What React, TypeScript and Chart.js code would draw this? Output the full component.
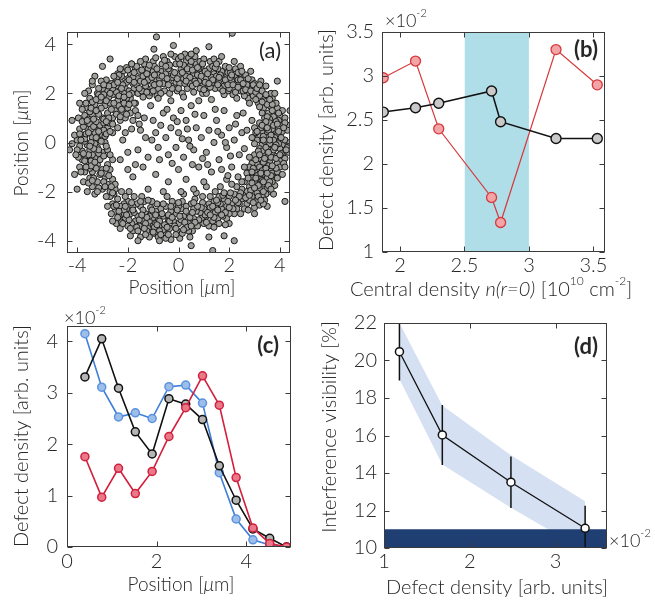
import React, { useEffect, useRef } from "react";
import { Chart, registerables } from "chart.js";

Chart.register(...registerables);

const FONT = 'Lato, "Open Sans", "DejaVu Sans", sans-serif';
const TXT = "#262626";
const TICK_SIZE = 20;
const TITLE_SIZE = 20;

// ---------- Panel (a): defect positions (x, y pairs, µm) ----------
const scatterPairs = [
  // top arc
  -2.4,2.8, -2.3,2.5, -2.2,2.9, -2.1,2.2, -2.45,2.3, -2.0,2.6, -2.3,3.0, -2.15,2.0, -2.05,2.45, -2.35,2.05, -2.25,2.7, -2.4,1.9, -2.1,1.7, -2.2,1.5,
  -1.9,2.8, -1.8,2.4, -1.7,3.0, -1.6,2.6, -1.95,2.1, -1.75,2.2, -1.55,2.9, -1.85,3.2, -1.65,2.35, -1.9,1.8, -1.6,2.0, -1.7,1.6, -1.5,2.5, -1.8,2.65,
  -1.4,2.7, -1.3,2.3, -1.2,3.0, -1.1,2.5, -1.45,2.1, -1.25,2.8, -1.05,2.2, -1.35,3.2, -1.15,1.9, -1.0,2.9, -1.4,1.85, -1.2,2.55, -1.3,3.4, -1.1,2.05, -1.0,3.3,
  -0.9,2.6, -0.8,2.2, -0.7,2.9, -0.6,2.4, -0.95,3.1, -0.75,2.6, -0.55,2.1, -0.85,1.9, -0.65,3.2, -0.9,3.45, -0.7,2.0, -0.5,2.8, -0.6,3.5, -0.8,2.75, -0.97,3.8, -0.87,4.3,
  -0.4,2.5, -0.3,2.9, -0.2,2.3, -0.1,3.2, -0.45,3.3, -0.25,2.65, -0.05,2.1, -0.35,2.0, -0.15,3.5, -0.4,3.0, -0.2,2.75, -0.1,2.45, 0.0,3.4, -0.2,3.95, -0.3,3.6,
  0.1,3.0, 0.2,2.6, 0.3,3.3, 0.4,2.9, 0.05,2.4, 0.25,3.6, 0.35,2.2, 0.15,2.0, 0.45,3.1, 0.1,3.5, 0.3,2.7, 0.45,2.4, 0.2,3.15, 0.0,2.75, 0.4,3.45,
  0.6,2.8, 0.7,3.2, 0.8,2.5, 0.9,3.0, 0.55,2.3, 0.75,2.75, 0.95,2.3, 0.65,3.5, 0.85,3.3, 0.7,3.74, 0.6,2.05, 0.9,2.7, 0.8,3.0, 0.5,3.3, 0.95,2.0,
  1.1,2.6, 1.2,3.0, 1.3,2.4, 1.4,2.8, 1.05,2.9, 1.25,3.3, 1.45,2.2, 1.15,2.2, 1.35,3.1, 1.0,3.4, 1.2,3.9, 1.4,3.4, 1.1,2.0, 1.3,2.65, 1.45,2.55,
  1.6,2.5, 1.7,2.9, 1.8,2.3, 1.9,2.7, 1.55,3.0, 1.75,2.6, 1.95,2.1, 1.65,2.2, 1.85,3.1, 1.6,3.3, 1.9,2.45, 1.5,2.7, 1.8,1.95, 1.7,3.5, 1.95,2.85,
  2.1,2.5, 2.2,2.2, 2.3,2.7, 2.4,2.4, 2.05,2.85, 2.25,3.0, 2.45,2.1, 2.15,1.95, 2.35,2.55, 2.0,2.2, 2.2,3.3, 2.4,2.8, 2.12,4.45, 2.3,1.8, 2.45,3.1,
  2.6,2.3, 2.7,2.0, 2.8,2.5, 2.9,2.2, 2.55,2.6, 2.75,1.8, 2.95,1.9, 2.65,2.75, 2.85,2.9, 2.6,1.9, 2.9,2.55, 2.7,2.35, 2.55,2.1, 3.0,2.4, 2.8,1.6,
  -2.5,2.45, -2.35,2.75, -2.2,2.35, -2.05,3.05, -1.95,2.55, -1.85,2.0, -1.75,2.85, -1.65,3.1, -1.55,2.2, -1.45,2.95, -1.35,2.45, -1.25,2.05, -1.15,3.15, -1.05,2.65,
  -0.95,2.35, -0.85,3.0, -0.75,2.4, -0.65,2.7, -0.55,3.35, -0.45,2.6, -0.35,3.15, -0.25,2.2, -0.15,2.85, -0.05,2.6, 0.05,3.2, 0.15,2.85, 0.25,2.4, 0.35,3.0,
  0.45,2.65, 0.55,2.95, 0.65,2.5, 0.75,3.05, 0.85,2.2, 0.95,3.2, 1.05,2.45, 1.15,2.8, 1.25,2.25, 1.35,2.55, 1.45,3.05, 1.55,2.35, 1.65,2.75, 1.75,2.1,
  1.85,2.55, 1.95,2.35, 2.05,2.65, 2.15,2.35, 2.25,2.05, 2.35,2.85, 2.45,2.55, 2.55,2.4, 2.65,2.15, 2.75,2.6, 2.85,2.1, 2.95,2.35, 3.05,2.05, -2.0,2.95,
  -1.5,3.3, -0.5,3.1, 0.5,3.6, 1.5,3.2, 2.0,3.05, 2.5,2.9, -1.0,2.1, 0.0,2.2, 1.0,2.15, -2.45,2.6, -1.75,2.45, -0.95,2.75, 0.3,2.5, 1.6,2.65, 2.35,2.25,
  -0.4,2.35, 0.7,2.4, 1.2,2.4, 2.1,2.75,
  // upper-right shoulder
  3.1,2.2, 3.2,1.9, 3.3,2.1, 3.4,1.7, 3.5,1.9, 3.6,1.5, 3.7,1.8, 3.8,1.3, 3.15,1.6, 3.35,1.4, 3.55,1.2, 3.75,1.05, 3.9,1.4, 4.0,1.1, 3.25,2.5, 3.45,2.3,
  3.65,2.0, 3.05,1.75, 3.3,1.2, 3.5,1.55, 3.7,1.3, 3.85,1.6, 3.95,0.9, 3.6,0.95, 3.4,1.0, 3.8,2.0, 4.1,1.3, 3.2,2.35, 3.9,2.5, 4.4,1.3, 4.2,1.0, 4.3,0.7,
  3.5,1.05, 3.7,1.55, 3.3,1.65, 3.95,1.2, 3.6,1.75, 3.2,1.45, 3.45,1.95,
  // right side
  3.2,0.8, 3.4,0.6, 3.6,0.8, 3.8,0.5, 4.0,0.7, 3.3,0.4, 3.5,0.35, 3.7,0.55, 3.9,0.3, 4.1,0.45, 3.0,0.6, 3.15,0.3, 4.2,0.8, 3.45,0.85, 3.85,0.85, 2.9,0.9, 4.3,0.5,
  3.1,0.1, 3.3,-0.1, 3.5,0.2, 3.7,-0.2, 3.9,0.05, 4.1,-0.1, 3.2,-0.25, 3.4,0.05, 3.6,-0.05, 3.8,0.2, 4.0,-0.25, 4.2,0.1, 3.0,-0.05, 4.3,-0.2, 3.55,-0.3, 3.75,0.1, 2.9,0.2, 4.4,0.0, 3.35,0.25, 3.95,-0.05,
  3.0,-0.5, 3.2,-0.7, 3.4,-0.45, 3.6,-0.8, 3.8,-0.55, 4.0,-0.75, 3.1,-0.85, 3.3,-0.35, 3.5,-0.6, 3.7,-0.4, 3.9,-0.85, 4.1,-0.5, 2.8,-0.6, 2.9,-0.85, 4.2,-0.65, 3.45,-0.9, 3.65,-0.6, 4.35,-0.4,
  2.8,-1.0, 3.0,-1.2, 3.2,-1.0, 3.4,-1.3, 3.6,-1.1, 3.8,-1.4, 4.0,-1.0, 2.9,-1.45, 3.1,-1.35, 3.3,-1.15, 3.5,-1.45, 3.7,-1.25, 3.9,-1.2, 2.7,-1.25, 3.25,-1.5, 4.1,-1.3, 2.6,-1.0, 3.55,-0.95,
  2.6,-1.6, 2.8,-1.8, 3.0,-1.6, 3.2,-1.9, 3.4,-1.7, 3.6,-2.0, 3.8,-1.75, 2.7,-2.0, 2.9,-1.65, 3.1,-2.05, 3.3,-1.55, 3.5,-1.85, 3.7,-1.6, 2.5,-1.9, 3.75,-2.1, 4.2,-2.4, 3.45,-2.1,
  2.5,-2.3, 2.7,-2.5, 2.9,-2.2, 3.1,-2.4, 3.3,-2.2, 3.5,-2.6, 2.6,-2.7, 2.8,-2.35, 3.0,-2.65, 3.2,-2.55, 2.4,-2.5, 3.4,-2.35, 2.55,-2.15, 3.0,-2.9,
  3.25,0.6, 3.55,0.5, 3.75,0.7, 3.95,0.55, 4.15,0.6, 3.05,0.4, 3.35,0.1, 3.65,0.3, 3.85,-0.1, 4.05,0.2, 3.15,-0.35, 3.45,-0.2, 3.75,-0.3, 4.05,-0.45, 4.25,-0.3,
  3.05,-0.7, 3.35,-0.8, 3.55,-0.4, 3.85,-0.65, 4.15,-0.85, 2.95,-1.05, 3.25,-1.25, 3.45,-1.05, 3.65,-1.35, 3.85,-1.05, 3.05,-1.45, 3.35,-1.6, 3.6,-1.6, 3.9,-1.45,
  2.75,-1.45, 2.85,-1.95, 3.15,-1.75, 3.35,-2.0, 3.55,-1.75, 2.65,-2.25, 2.95,-2.45, 3.15,-2.2, 3.35,-2.5, 2.75,-2.75, 2.45,-2.05, 3.3,0.7, 3.6,0.1, 3.9,0.75,
  3.7,-0.95, 3.2,-0.5, 3.5,-1.25, 3.0,-1.85, 2.8,-2.15, 4.0,-0.5, 4.2,-1.0, 3.95,0.45, 3.5,0.6, 3.1,0.45, 3.8,-0.2, 3.4,-0.65, 2.9,-1.2, 3.25,-2.35, 3.65,-1.9,
  // bottom right
  2.3,-1.8, 2.2,-2.1, 2.4,-2.2, 2.1,-2.5, 2.3,-2.7, 2.0,-2.2, 1.9,-2.6, 2.2,-2.9, 1.8,-2.3, 2.0,-2.9, 1.7,-2.7, 1.6,-2.2, 1.9,-3.1, 1.5,-2.6, 1.75,-3.0,
  1.4,-2.4, 1.3,-2.8, 1.55,-3.1, 1.2,-2.5, 1.1,-3.0, 1.35,-3.2, 1.0,-2.7, 1.2,-3.4, 0.9,-3.1, 1.45,-2.0, 1.25,-2.2, 2.5,-1.6, 2.1,-1.7, 1.65,-1.8, 1.9,-1.5,
  1.1,-1.8, 2.45,-2.9, 1.6,-3.3, 2.0,-3.3, 1.85,-3.35, 1.4,-3.45, 1.0,-3.3, 0.85,-2.6, 1.8,-3.8, 2.2,-4.0, 1.35,-4.4, 1.2,-3.85, 0.95,-2.2,
  2.35,-2.45, 2.15,-2.7, 1.95,-2.4, 1.85,-2.85, 1.65,-2.5, 1.45,-2.85, 1.25,-2.65, 1.05,-2.95, 0.85,-2.85, 2.05,-2.05, 1.75,-2.15, 1.55,-2.45, 1.35,-2.6,
  1.15,-2.85, 0.95,-2.45, 2.25,-2.35, 2.0,-2.65, 1.7,-2.95, 1.4,-3.05, 1.1,-3.25, 0.8,-3.15, 1.55,-2.75, 1.25,-2.95, 0.9,-2.65, 1.8,-2.05, 1.5,-2.35,
  // bottom arc
  0.7,-2.8, 0.6,-3.1, 0.5,-2.5, 0.4,-3.3, 0.75,-3.4, 0.55,-3.6, 0.35,-2.9, 0.65,-2.3, 0.45,-3.85, 0.3,-2.6, 0.5,-4.2, 0.7,-2.05, 0.4,-3.6, 0.6,-2.7,
  0.2,-3.0, 0.1,-2.7, 0.0,-3.3, -0.1,-2.9, 0.25,-3.5, 0.15,-2.4, -0.05,-3.6, 0.05,-3.9, -0.15,-2.5, 0.2,-2.1, -0.2,-3.2, 0.0,-2.6, 0.1,-3.15, -0.1,-3.75,
  -0.3,-2.8, -0.4,-3.2, -0.5,-2.6, -0.6,-3.0, -0.35,-3.5, -0.55,-3.7, -0.25,-2.4, -0.45,-2.2, -0.65,-3.4, -0.3,-3.95, -0.5,-3.9, -0.7,-2.7, -0.4,-2.95, -0.6,-3.55,
  -0.8,-3.1, -0.9,-2.8, -1.0,-3.4, -1.1,-2.9, -0.75,-3.6, -0.95,-3.7, -1.15,-3.2, -0.85,-2.5, -1.05,-2.4, -1.2,-3.5, -0.8,-3.85, -1.0,-3.05, -0.9,-3.3, -1.1,-2.65, -0.75,-4.0, -1.15,-3.85,
  -1.3,-2.9, -1.4,-3.2, -1.5,-2.6, -1.6,-3.0, -1.35,-2.4, -1.55,-3.4, -1.25,-3.6, -1.45,-2.2, -1.65,-2.5, -1.3,-3.3, -1.5,-3.85, -1.7,-3.2, -1.4,-2.75, -1.6,-4.0,
  -1.8,-2.6, -1.9,-2.9, -2.0,-2.4, -2.1,-3.1, -1.85,-3.3, -2.05,-2.7, -1.75,-2.2, -1.95,-2.0, -2.15,-2.5, -1.8,-3.6, -2.2,-2.9, -1.9,-3.8, -2.0,-3.4, -2.1,-2.2,
  -2.3,-2.6, -2.4,-2.3, -2.5,-2.8, -2.6,-2.5, -2.35,-3.0, -2.55,-2.1, -2.25,-2.0, -2.45,-3.3, -2.65,-2.9, -2.7,-2.2, -2.3,-3.5, -2.5,-1.9, -2.8,-2.6, -2.6,-3.2,
  0.65,-3.25, 0.45,-3.05, 0.25,-3.25, 0.05,-3.0, -0.15,-3.4, -0.35,-3.2, -0.55,-3.35, -0.75,-3.2, -0.95,-3.45, -1.15,-3.0, -1.35,-3.5, -1.55,-3.15, -1.75,-2.85,
  -1.95,-3.15, -2.15,-2.75, -2.35,-2.8, -2.55,-2.6, 0.75,-2.6, 0.55,-2.85, 0.35,-3.45, 0.15,-3.7, -0.05,-2.75, -0.25,-3.05, -0.45,-3.45, -0.65,-2.9, -0.85,-3.35,
  -1.05,-2.75, -1.25,-3.05, -1.45,-2.95, -1.65,-3.45, -1.85,-2.45, -2.05,-2.95, -2.25,-3.25, -2.45,-2.55, 0.5,-3.4, 0.2,-3.55, -0.1,-3.5, -0.4,-3.75, -0.7,-3.75,
  -1.0,-3.65, -1.3,-3.75, -1.6,-3.6, -1.9,-3.5, -2.2,-3.3, 0.6,-2.45, 0.3,-2.8, 0.0,-2.45, -0.3,-2.6, -0.6,-2.5, -0.9,-2.95, -1.2,-2.35, -1.5,-2.4, -1.8,-2.75,
  -2.1,-2.6, -2.4,-3.05,
  // left side
  -3.0,-1.9, -2.8,-1.7, -3.2,-1.6, -2.6,-1.5, -3.4,-1.8, -2.9,-1.4, -3.1,-1.3, -2.7,-2.0, -3.5,-1.45, -3.3,-2.1, -2.5,-1.7, -3.6,-2.0, -2.85,-2.2, -3.75,-1.6, -4.0,-1.9,
  -3.0,-1.1, -3.2,-0.9, -3.4,-1.2, -3.6,-0.8, -2.8,-0.9, -3.1,-0.7, -3.3,-0.6, -3.5,-1.05, -3.7,-1.2, -2.9,-1.25, -3.8,-0.7, -2.7,-1.1, -3.9,-1.0, -3.45,-0.75, -4.1,-1.3, -2.6,-0.7, -3.65,-0.6,
  -3.0,-0.4, -3.2,-0.2, -3.4,-0.5, -3.6,-0.1, -3.8,-0.35, -2.9,0.0, -3.1,0.1, -3.3,-0.05, -3.5,-0.3, -3.7,0.05, -3.9,-0.15, -4.0,-0.3, -2.8,-0.3, -4.2,-0.05, -3.65,-0.55, -4.3,-0.3, -2.7,-0.5, -3.15,-0.45,
  -3.0,0.3, -3.2,0.5, -3.4,0.2, -3.6,0.6, -3.8,0.3, -2.8,0.6, -3.1,0.7, -3.3,0.4, -3.5,0.75, -3.7,0.15, -3.9,0.55, -2.9,0.25, -4.0,0.1, -2.6,0.4, -4.1,0.3, -3.45,0.55, -2.75,0.8,
  -2.95,-1.6, -3.15,-1.85, -3.35,-1.45, -3.55,-1.65, -2.75,-1.35, -2.65,-1.8, -3.05,-1.25, -3.25,-1.05, -3.45,-0.95, -3.65,-1.0, -3.85,-1.2, -2.85,-1.05,
  -2.95,-0.55, -3.15,-0.3, -3.35,-0.25, -3.55,-0.5, -3.75,-0.45, -3.95,-0.6, -2.85,-0.15, -3.05,0.05, -3.25,0.2, -3.45,0.0, -3.65,0.35, -3.85,0.1,
  -2.95,0.5, -3.15,0.45, -3.35,0.65, -3.55,0.4, -3.75,0.65, -2.85,0.35, -3.4,-1.55, -2.9,-1.8, -3.2,-2.0, -2.6,-2.05, -3.5,-0.15, -3.7,-0.75, -3.9,0.35,
  -4.05,-0.5, -3.3,-0.8,
  // top-left cluster
  -3.0,1.0, -3.2,1.3, -3.4,1.1, -3.6,1.4, -2.8,1.2, -2.6,1.0, -2.9,1.5, -3.1,1.7, -3.3,1.55, -3.5,1.8, -2.7,1.6, -2.5,1.3, -2.4,1.7, -2.6,1.95, -2.8,2.1,
  -3.0,2.2, -3.2,2.0, -3.4,2.35, -2.2,1.2, -2.3,0.9, -2.1,1.0, -2.0,1.4, -1.9,1.2, -1.8,0.9, -1.7,1.3, -2.05,1.8, -2.25,2.2, -3.7,1.1, -3.8,1.35, -3.55,0.95,
  -3.25,0.85, -2.95,0.8, -2.65,2.4, -2.85,2.55, -3.05,2.5, -3.3,2.7, -2.55,2.7, -2.35,1.5, -2.15,1.6, -1.95,1.95, -1.75,1.6, -1.6,1.1, -1.55,0.75, -1.85,0.55, -2.1,0.4,
  -2.4,0.6, -2.7,0.45, -3.55,2.1, -3.95,1.0, -4.2,0.9, -3.7,2.0, -3.9,1.6, -2.45,2.05, -2.75,1.85, -3.15,1.95, -3.4,1.65, -2.95,1.95, -3.7,0.85, -3.4,2.5, -2.6,2.2,
  -2.7,3.4, -1.85,3.2, -3.0,3.1,
  -2.95,0.95, -3.15,1.15, -3.35,0.95, -3.5,1.25, -2.75,1.0, -2.65,1.35, -2.85,1.7, -3.05,1.4, -3.25,1.75, -2.55,1.6, -2.45,1.15, -2.35,1.9, -2.55,2.35,
  -2.75,2.3, -2.95,2.35, -3.15,2.2, -2.25,1.35, -2.05,1.15, -1.95,1.55, -2.15,1.85, -2.3,1.05, -2.6,0.75, -2.85,0.85, -3.45,1.4, -3.25,1.3, -3.65,1.6,
  -3.8,0.85, -3.05,1.85, -2.7,2.0, -2.4,2.45, -3.6,0.9,
  // interior
  -1.5,0.5, -1.3,0.2, -1.6,-0.3, -1.2,-0.6, -1.4,-1.0, -1.8,-1.4, -1.0,0.9, -0.9,0.4, -0.8,-0.2, -0.7,0.7, -0.6,1.2, -0.5,0.2, -0.4,-0.5, -0.3,0.6, -0.2,1.0,
  -0.1,-0.2, 0.0,0.4, 0.1,1.3, 0.2,-0.6, 0.3,0.9, 0.4,0.1, 0.5,1.5, 0.6,-0.3, 0.7,0.6, 0.8,-1.0, 0.9,0.2, 1.0,1.1, 1.1,-0.4, 1.2,0.5, 1.3,-1.2,
  1.4,0.0, 1.5,0.9, 1.6,-0.7, 1.7,0.3, 1.8,1.3, 1.9,-0.2, 2.0,0.6, 2.1,-1.0, 2.2,0.1, 2.3,1.1, 2.4,-0.5, 2.5,0.4, -1.1,1.5, -0.8,1.8, -0.3,1.7,
  0.2,1.85, 0.8,1.7, 1.3,1.75, -0.9,-1.3, -0.4,-1.6, 0.0,-1.1, 0.3,-1.5, 0.6,-1.9, 1.0,-1.6, -1.2,-1.9, -0.6,-2.0, 0.1,-2.0, -0.05,0.85, 0.35,0.55, 0.15,0.15,
  -0.25,-0.85, 0.55,-0.9, 1.15,-0.9, 1.55,0.45, 2.25,0.75, 2.6,-0.25, 2.7,0.5, 2.55,1.2, -1.35,1.0, -0.45,1.35, 0.65,1.15, 1.85,0.0, 2.05,-0.55, -0.75,-0.7, -1.05,0.1,
  0.45,-0.15, 0.95,-0.65, 1.45,1.35, -1.7,-0.9, -2.0,-0.4, -2.2,0.1, -2.0,-1.1, -2.3,-0.7, 1.95,-1.35, 2.35,-1.4, 1.7,-1.1,
];
const aTicks = [-4, -2, 0, 2, 4];

// ---------- Panel (b) ----------
const bCentralDensity = [1.87, 2.12, 2.3, 2.71, 2.78, 3.21, 3.53];
const bBlackDefect = [2.59, 2.64, 2.69, 2.83, 2.48, 2.29, 2.29];
const bRedDefect = [2.98, 3.17, 2.4, 1.62, 1.335, 3.3, 2.9];
const bBand = [2.5, 3.0];
const bXTicks = [2, 2.5, 3, 3.5];
const bYTicks = [1, 1.5, 2, 2.5, 3, 3.5];

// ---------- Panel (c) ----------
const cPosition = [0.4, 0.775, 1.15, 1.525, 1.9, 2.275, 2.65, 3.025, 3.4, 3.775, 4.15, 4.525, 4.9];
const cBlack = [3.31, 4.05, 3.09, 2.24, 1.81, 2.885, 2.78, 2.48, 1.58, 0.91, 0.35, 0.17, 0];
const cBlue = [4.15, 3.11, 2.53, 2.61, 2.5, 3.12, 3.15, 2.8, 1.445, 0.545, 0.14, 0.04, 0];
const cRed = [1.757, 0.97, 1.53, 1.04, 1.47, 2.15, 2.71, 3.33, 2.76, 1.35, 0.37, 0.07, 0];
const cXTicks = [0, 2, 4];
const cYTicks = [0, 1, 2, 3, 4];

// ---------- Panel (d) ----------
const dDefect = [1.18, 1.68, 2.48, 3.345];
const dVisibility = [20.47, 16.03, 13.51, 11.05];
const dError = [1.53, 1.6, 1.37, 1.2];
const dBandUpper = [22.0, 17.6, 14.95, 12.5];
const dBandLower = [19.0, 14.45, 12.15, 9.85];
const dFloor = [10, 11];
const dXTicks = [1, 2, 3];
const dYTicks = [10, 12, 14, 16, 18, 20, 22];

type Seg = { t: string; it?: boolean; sup?: boolean };
type TextItem = { segs: Seg[]; x: number; y: number; size: number; align?: "left" | "center" | "right"; rot?: boolean; bold?: boolean; light?: boolean };
type Area = { l: number; t: number; r: number; b: number };

function fontFor(size: number, s: Seg, bold?: boolean, light?: boolean) {
  const sz = s.sup ? Math.round(size * 0.62) : size;
  const weight = bold ? "bold " : light ? "300 " : "";
  return `${s.it ? "italic " : ""}${weight}${sz}px ${FONT}`;
}

function drawRich(ctx: CanvasRenderingContext2D, item: TextItem) {
  const { segs, x, y, size, align = "center", rot = false, bold = false, light = true } = item;
  ctx.save();
  ctx.translate(x, y);
  if (rot) ctx.rotate(-Math.PI / 2);
  ctx.textBaseline = "middle";
  ctx.textAlign = "left";
  ctx.fillStyle = TXT;
  let total = 0;
  const widths = segs.map((s) => {
    ctx.font = fontFor(size, s, bold, light);
    const w = ctx.measureText(s.t).width;
    total += w;
    return w;
  });
  let cx = align === "center" ? -total / 2 : align === "right" ? -total : 0;
  segs.forEach((s, i) => {
    ctx.font = fontFor(size, s, bold, light);
    ctx.fillText(s.t, cx, s.sup ? -size * 0.42 : 0);
    cx += widths[i];
  });
  ctx.restore();
}

function decorPlugin(ox: number, oy: number, texts: TextItem[]) {
  return {
    id: "decor",
    afterDraw(chart: any) {
      const { ctx, chartArea: a, scales } = chart;
      ctx.save();
      ctx.strokeStyle = "#3a3a3a";
      ctx.lineWidth = 1;
      const L = Math.round(a.left) + 0.5, T = Math.round(a.top) + 0.5;
      const R = Math.round(a.right) - 0.5, B = Math.round(a.bottom) - 0.5;
      ctx.strokeRect(L, T, R - L, B - T);
      const tl = 5;
      ctx.beginPath();
      scales.x.ticks.forEach((tk: any) => {
        const p = Math.round(scales.x.getPixelForValue(tk.value)) + 0.5;
        ctx.moveTo(p, B); ctx.lineTo(p, B - tl);
        ctx.moveTo(p, T); ctx.lineTo(p, T + tl);
      });
      scales.y.ticks.forEach((tk: any) => {
        const p = Math.round(scales.y.getPixelForValue(tk.value)) + 0.5;
        ctx.moveTo(L, p); ctx.lineTo(L + tl, p);
        ctx.moveTo(R, p); ctx.lineTo(R - tl, p);
      });
      ctx.stroke();
      ctx.translate(-ox, -oy);
      texts.forEach((t) => drawRich(ctx, t));
      ctx.restore();
    },
  };
}

function fmtTick(v: any) {
  return String(Number(v));
}

function axis(kind: "x" | "y", min: number, max: number, ticks: number[], area: Area, H: number, pad: number) {
  return {
    type: "linear",
    min,
    max,
    afterBuildTicks: (s: any) => {
      s.ticks = ticks.map((v) => ({ value: v }));
    },
    afterFit: (s: any) => {
      if (kind === "x") s.height = H - area.b;
      else s.width = area.l;
    },
    grid: { display: false, drawTicks: false },
    border: { display: false },
    ticks: {
      padding: pad,
      color: TXT,
      font: { family: FONT, size: TICK_SIZE, weight: "300" },
      maxRotation: 0,
      minRotation: 0,
      autoSkip: false,
      callback: (v: any) => fmtTick(v),
    },
  };
}

function baseOptions(area: Area, W: number) {
  return {
    responsive: false,
    maintainAspectRatio: false,
    animation: false,
    events: [],
    layout: { padding: { left: 0, top: area.t, right: W - area.r, bottom: 0 } },
    plugins: { legend: { display: false }, tooltip: { enabled: false } },
  };
}

const pts = (xs: number[], ys: number[]) => xs.map((x, i) => ({ x, y: ys[i] }));

const positionTitle: Seg[] = [{ t: "Position [" }, { t: "μ", it: true }, { t: "m]" }];
const defectTitle: Seg[] = [{ t: "Defect density [arb. units]" }];
const expLabel: Seg[] = [{ t: "×10" }, { t: "-2", sup: true }];

type Spec = { ox: number; oy: number; w: number; h: number; build: () => any };

const specA: Spec = {
  ox: 0, oy: 0, w: 315, h: 300,
  build: () => {
    const area = { l: 67, t: 32, r: 290, b: 253 };
    const data: { x: number; y: number }[] = [];
    for (let i = 0; i + 1 < scatterPairs.length; i += 2) data.push({ x: scatterPairs[i], y: scatterPairs[i + 1] });
    return {
      type: "scatter",
      data: {
        datasets: [
          {
            data,
            showLine: false,
            pointRadius: 3.1,
            pointBackgroundColor: "#a0a09c",
            pointBorderColor: "#1a1a1a",
            pointBorderWidth: 1,
            clip: 0,
          },
        ],
      },
      options: {
        ...baseOptions(area, 315),
        scales: {
          x: axis("x", -4.4, 4.4, aTicks, area, 300, 1),
          y: axis("y", -4.5, 4.5, aTicks, area, 300, 11),
        },
      },
      plugins: [
        decorPlugin(0, 0, [
          { segs: [{ t: "(a)" }], x: 281, y: 51, size: 22, align: "right", light: false },
          { segs: positionTitle, x: 182, y: 288, size: 19 },
          { segs: positionTitle, x: 22, y: 143, size: 19, rot: true },
        ]),
      ],
    };
  },
};

const specB: Spec = {
  ox: 315, oy: 0, w: 340, h: 300,
  build: () => {
    const area = { l: 67, t: 32, r: 290, b: 252 };
    return {
      type: "line",
      data: {
        datasets: [
          {
            data: pts(bCentralDensity, bBlackDefect),
            borderColor: "#111111",
            borderWidth: 1.5,
            pointRadius: 5,
            pointBackgroundColor: "#c9c9c9",
            pointBorderColor: "#111111",
            pointBorderWidth: 1.4,
            tension: 0,
            order: 0,
          },
          {
            data: pts(bCentralDensity, bRedDefect),
            borderColor: "#d6393b",
            borderWidth: 1.2,
            pointRadius: 5,
            pointBackgroundColor: "#f2a4a7",
            pointBorderColor: "#d6393b",
            pointBorderWidth: 1.3,
            tension: 0,
            order: 1,
          },
          {
            data: [{ x: bBand[0], y: 3.5 }, { x: bBand[1], y: 3.5 }],
            borderColor: "rgba(0,0,0,0)",
            borderWidth: 0,
            pointRadius: 0,
            backgroundColor: "#afdde8",
            fill: "start",
            order: 5,
          },
        ],
      },
      options: {
        ...baseOptions(area, 340),
        scales: {
          x: axis("x", 1.86, 3.59, bXTicks, area, 300, 2),
          y: axis("y", 1, 3.5, bYTicks, area, 300, 8),
        },
      },
      plugins: [
        decorPlugin(315, 0, [
          { segs: [{ t: "(b)" }], x: 598, y: 50, size: 22, align: "right", bold: true },
          { segs: expLabel, x: 385, y: 21, size: 18, align: "left" },
          {
            segs: [
              { t: "Central density " },
              { t: "n(r=0)", it: true },
              { t: " [10" },
              { t: "10", sup: true },
              { t: " cm" },
              { t: "-2", sup: true },
              { t: "]" },
            ],
            x: 491, y: 290, size: TITLE_SIZE,
          },
          { segs: defectTitle, x: 327, y: 140, size: TITLE_SIZE, rot: true },
        ]),
      ],
    };
  },
};

const specC: Spec = {
  ox: 0, oy: 300, w: 315, h: 300,
  build: () => {
    const area = { l: 67, t: 26, r: 291, b: 247 };
    const series = (ys: number[], line: string, fill: string, border: string, order: number) => ({
      data: pts(cPosition, ys),
      borderColor: line,
      borderWidth: 1.6,
      pointRadius: 4,
      pointBackgroundColor: fill,
      pointBorderColor: border,
      pointBorderWidth: 1.5,
      tension: 0,
      order,
    });
    return {
      type: "line",
      data: {
        datasets: [
          series(cRed, "#d21f3c", "#e9798a", "#d21f3c", 0),
          series(cBlack, "#111111", "#b5b5b5", "#111111", 1),
          series(cBlue, "#3f7fd8", "#9ebeea", "#5b93e0", 2),
        ],
      },
      options: {
        ...baseOptions(area, 315),
        scales: {
          x: axis("x", 0, 5, cXTicks, area, 300, 3),
          y: axis("y", 0, 4.3, cYTicks, area, 300, 9),
        },
      },
      plugins: [
        decorPlugin(0, 300, [
          { segs: [{ t: "(c)" }], x: 279, y: 346, size: 22, align: "right", bold: true },
          { segs: expLabel, x: 64, y: 318, size: 18, align: "left" },
          { segs: positionTitle, x: 181, y: 585, size: 19 },
          { segs: defectTitle, x: 22, y: 436, size: TITLE_SIZE, rot: true },
        ]),
      ],
    };
  },
};

const errorBarPlugin = {
  id: "errorBars",
  beforeDatasetDraw(chart: any, args: any) {
    if (args.index !== 0) return;
    const { ctx, chartArea: a, scales } = chart;
    ctx.save();
    ctx.beginPath();
    ctx.rect(a.left, a.top, a.right - a.left, a.bottom - a.top);
    ctx.clip();
    ctx.strokeStyle = "#111111";
    ctx.lineWidth = 1.5;
    ctx.beginPath();
    dDefect.forEach((x, i) => {
      const px = scales.x.getPixelForValue(x);
      ctx.moveTo(px, scales.y.getPixelForValue(dVisibility[i] + dError[i]));
      ctx.lineTo(px, scales.y.getPixelForValue(dVisibility[i] - dError[i]));
    });
    ctx.stroke();
    ctx.restore();
  },
};

const specD: Spec = {
  ox: 315, oy: 300, w: 340, h: 300,
  build: () => {
    const area = { l: 69, t: 23, r: 292, b: 248 };
    return {
      type: "line",
      data: {
        datasets: [
          {
            data: pts(dDefect, dVisibility),
            borderColor: "#111111",
            borderWidth: 1.3,
            pointRadius: 4,
            pointBackgroundColor: "#ffffff",
            pointBorderColor: "#111111",
            pointBorderWidth: 1.5,
            tension: 0,
            order: 0,
          },
          {
            data: [{ x: 1, y: dFloor[1] }, { x: 3.6, y: dFloor[1] }],
            borderColor: "rgba(0,0,0,0)",
            borderWidth: 0,
            pointRadius: 0,
            backgroundColor: "#1f3f73",
            fill: { value: dFloor[0] },
            order: 1,
          },
          {
            data: pts(dDefect, dBandUpper),
            borderColor: "rgba(0,0,0,0)",
            borderWidth: 0,
            pointRadius: 0,
            fill: false,
            order: 2,
          },
          {
            data: pts(dDefect, dBandLower),
            borderColor: "rgba(0,0,0,0)",
            borderWidth: 0,
            pointRadius: 0,
            backgroundColor: "#d5e1f3",
            fill: "-1",
            order: 2,
          },
        ],
      },
      options: {
        ...baseOptions(area, 340),
        scales: {
          x: axis("x", 1, 3.6, dXTicks, area, 300, 2),
          y: axis("y", 10, 22, dYTicks, area, 300, 7),
        },
      },
      plugins: [
        errorBarPlugin,
        decorPlugin(315, 300, [
          { segs: [{ t: "(d)" }], x: 598, y: 347, size: 22, align: "right", bold: true },
          { segs: expLabel, x: 609, y: 541, size: 18, align: "left" },
          { segs: defectTitle, x: 497, y: 588, size: TITLE_SIZE },
          { segs: [{ t: "Interference visibility [%]" }], x: 330, y: 427, size: TITLE_SIZE, rot: true },
        ]),
      ],
    };
  },
};

function Panel({ spec }: { spec: Spec }) {
  const ref = useRef<HTMLCanvasElement>(null);
  useEffect(() => {
    const chart = new Chart(ref.current as HTMLCanvasElement, spec.build());
    return () => chart.destroy();
  }, [spec]);
  return (
    <canvas
      ref={ref}
      width={spec.w}
      height={spec.h}
      style={{ position: "absolute", left: spec.ox, top: spec.oy, width: spec.w, height: spec.h }}
    />
  );
}

export default function App() {
  return (
    <div style={{ position: "absolute", left: 0, top: 0, width: 655, height: 600, background: "#ffffff" }}>
      <Panel spec={specA} />
      <Panel spec={specB} />
      <Panel spec={specC} />
      <Panel spec={specD} />
    </div>
  );
}
